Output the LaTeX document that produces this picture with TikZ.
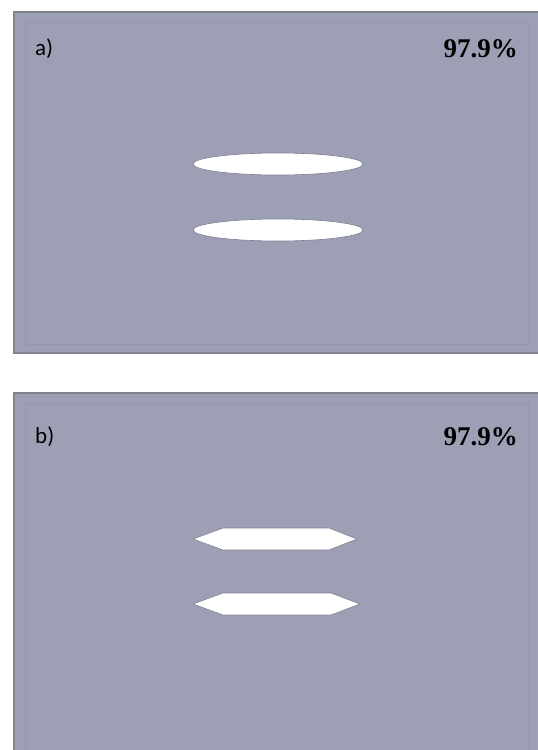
\documentclass[tikz,border=0pt]{standalone}
\usepackage{fontspec}
\usetikzlibrary{shapes.geometric}
\setmainfont{Liberation Serif}
\newfontfamily\labelfont{Carlito}
\definecolor{panelbg}{RGB}{157,160,180}
\definecolor{paneledge}{RGB}{128,130,140}
\definecolor{innerline}{RGB}{150,153,172}
\definecolor{holeedge}{RGB}{125,127,145}
\tikzset{
  panel/.style={fill=panelbg, draw=paneledge, line width=1.2pt},
  innerframe/.style={draw=innerline, line width=0.6pt},
  hole/.style={fill=white, draw=holeedge, line width=0.6pt},
  tag/.style={font=\labelfont\fontsize{23}{25}\selectfont, anchor=west, inner sep=0pt},
  pct/.style={font=\bfseries\fontsize{27}{30}\selectfont, anchor=east, inner sep=0pt}
}
\begin{document}
\begin{tikzpicture}[x=1pt,y=-1pt]
\useasboundingbox (0,0) rectangle (538,750);
\fill[white] (0,0) rectangle (538,750);
% panel a
\draw[panel] (14,12) rectangle (540,353);
\draw[innerframe] (25,22) rectangle (528,344);
% panel b
\draw[panel] (14,393) rectangle (540,752);
\draw[innerframe] (25,403) rectangle (528,752);
% labels
\node[tag] (la) at (35,49) {a)};
\node[pct] (pa) at (518,49) {97.9\%};
\node[tag] (lb) at (35,437) {b)};
\node[pct] (pb) at (518,437) {97.9\%};
% ellipses (panel a)
\node[hole, ellipse, minimum width=170pt, minimum height=22pt, inner sep=0pt] (e1) at (278,164) {};
\node[hole, ellipse, minimum width=170pt, minimum height=22pt, inner sep=0pt] (e2) at (278,230) {};
% hexagons (panel b)
\draw[hole] (193,539) -- (223,528) -- (329,528) -- (357,539) -- (329,550) -- (223,550) -- cycle;
\draw[hole] (193,604) -- (223,593) -- (331,593) -- (360,604) -- (331,615) -- (223,615) -- cycle;
\end{tikzpicture}
\end{document}
